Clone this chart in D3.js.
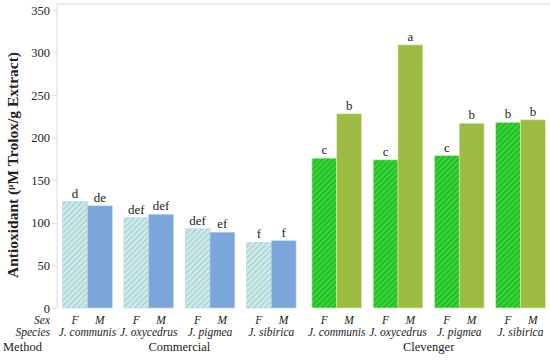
<!DOCTYPE html>
<html>
<head>
<meta charset="utf-8">
<script src="https://cdn.jsdelivr.net/npm/d3@7"></script>
<style>
  body { margin: 0; background: #fff; }
  svg text { font-family: "Liberation Serif", "Times New Roman", serif; fill: #222; }
</style>
</head>
<body>
<script>
// chart values
var methods = ["Commercial", "Clevenger"];
var species = ["J. communis", "J. oxycedrus", "J. pigmea", "J. sibirica"];
var sexes = ["F", "M"];
var commercialValues = [[125, 120], [106, 110], [93, 89], [77, 79]];
var clevengerValues = [[176, 228], [174, 309], [179, 217], [218, 221]];
var commercialLetters = [["d", "de"], ["def", "def"], ["def", "ef"], ["f", "f"]];
var clevengerLetters = [["c", "b"], ["c", "a"], ["c", "b"], ["b", "b"]];
var yTicks = [0, 50, 100, 150, 200, 250, 300, 350];

var rows = [];
methods.forEach(function(m, mi) {
  var vals = mi === 0 ? commercialValues : clevengerValues;
  var lets = mi === 0 ? commercialLetters : clevengerLetters;
  species.forEach(function(s, si) {
    sexes.forEach(function(x, xi) {
      rows.push({method: m, species: s, sex: x, value: vals[si][xi], letter: lets[si][xi]});
    });
  });
});

var width = 550, height = 360;
var svg = d3.select("body").append("svg")
    .attr("width", width).attr("height", height);

var defs = svg.append("defs");
function hatch(id, bg, fg) {
  var p = defs.append("pattern").attr("id", id)
      .attr("patternUnits", "userSpaceOnUse")
      .attr("width", 4).attr("height", 4)
      .attr("patternTransform", "rotate(45)");
  p.append("rect").attr("width", 4).attr("height", 4).attr("fill", bg);
  p.append("rect").attr("width", 1.6).attr("height", 4).attr("fill", fg);
}
hatch("hatchC", "#d3ecea", "#a7d4d3");
hatch("hatchG", "#35d835", "#22b326");

var colors = {
  Commercial: {F: "url(#hatchC)", M: "#7ba6da"},
  Clevenger: {F: "url(#hatchG)", M: "#9cbb41"}
};

var plotLeft = 57, plotTop = 10, plotBottom = 308;

var y = d3.scaleLinear().domain([0, 350]).range([plotBottom, plotTop]);

var xMethod = d3.scaleBand().domain(methods).range([plotLeft, 551]).paddingInner(0.018);
var xSpecies = d3.scaleBand().domain(species).range([0, xMethod.bandwidth()])
    .paddingInner(0.19).paddingOuter(0.093);
var xSex = d3.scaleBand().domain(sexes).range([0, xSpecies.bandwidth()]);

function barX(d) { return xMethod(d.method) + xSpecies(d.species) + xSex(d.sex); }

// frame lines
svg.append("line").attr("x1", plotLeft).attr("x2", width).attr("y1", 4).attr("y2", 4)
    .attr("stroke", "#e4e4e4").attr("stroke-width", 1.5);

var yAxis = svg.append("g")
    .attr("transform", "translate(" + plotLeft + ",0)")
    .call(d3.axisLeft(y).tickValues(yTicks).tickSize(5).tickPadding(2));
yAxis.select(".domain").attr("stroke", "#dcdcdc").attr("d", "M0,4V" + plotBottom);
yAxis.selectAll(".tick line").attr("stroke", "#dcdcdc");
yAxis.selectAll(".tick text").attr("font-size", 12.5).attr("fill", "#222");

// bars
svg.selectAll(".bar").data(rows).enter().append("rect")
    .attr("x", barX)
    .attr("y", function(d) { return y(d.value); })
    .attr("width", xSex.bandwidth())
    .attr("height", function(d) { return y(0) - y(d.value); })
    .attr("fill", function(d) { return colors[d.method][d.sex]; })
    .attr("stroke", function(d) { return d.method === "Commercial" ? "#b9d3ee" : "#d9e8b8"; })
    .attr("stroke-width", 0.6);

// letters
svg.selectAll(".letter").data(rows).enter().append("text")
    .attr("x", function(d) { return barX(d) + xSex.bandwidth() / 2; })
    .attr("y", function(d) { return y(d.value) - 4; })
    .attr("text-anchor", "middle")
    .attr("font-size", 13)
    .text(function(d) { return d.letter; });

// sex labels
svg.selectAll(".sex").data(rows).enter().append("text")
    .attr("x", function(d) { return barX(d) + xSex.bandwidth() / 2; })
    .attr("y", 323.5)
    .attr("text-anchor", "middle")
    .attr("font-size", 11.5)
    .attr("font-style", "italic")
    .text(function(d) { return d.sex; });

// species labels
var spRows = [];
methods.forEach(function(m) { species.forEach(function(s) { spRows.push({method: m, species: s}); }); });
svg.selectAll(".sp").data(spRows).enter().append("text")
    .attr("x", function(d) { return xMethod(d.method) + xSpecies(d.species) + xSpecies.bandwidth() / 2; })
    .attr("y", 336)
    .attr("text-anchor", "middle")
    .attr("font-size", 11.5)
    .attr("font-style", "italic")
    .text(function(d) { return d.species; });

// method labels
svg.selectAll(".method").data(methods).enter().append("text")
    .attr("x", function(d) { return xMethod(d) + xMethod.bandwidth() / 2; })
    .attr("y", 351)
    .attr("text-anchor", "middle")
    .attr("font-size", 12.5)
    .text(function(d) { return d; });

// row headers
svg.append("text").attr("x", 50).attr("y", 323.5).attr("text-anchor", "end")
    .attr("font-size", 11.5).attr("font-style", "italic").text("Sex");
svg.append("text").attr("x", 50).attr("y", 336).attr("text-anchor", "end")
    .attr("font-size", 11.5).attr("font-style", "italic").text("Species");
svg.append("text").attr("x", 3).attr("y", 351)
    .attr("font-size", 12.5).text("Method");

// y title
var title = svg.append("text")
    .attr("transform", "translate(18,165) rotate(-90)")
    .attr("text-anchor", "middle")
    .attr("font-size", 15.5)
    .attr("font-weight", "bold");
title.append("tspan").text("Antioxidant (");
title.append("tspan").attr("font-size", 9).attr("dy", -5).text("\u00b5");
title.append("tspan").attr("dy", 5).text("M Trolox/g Extract)");
</script>
</body>
</html>
